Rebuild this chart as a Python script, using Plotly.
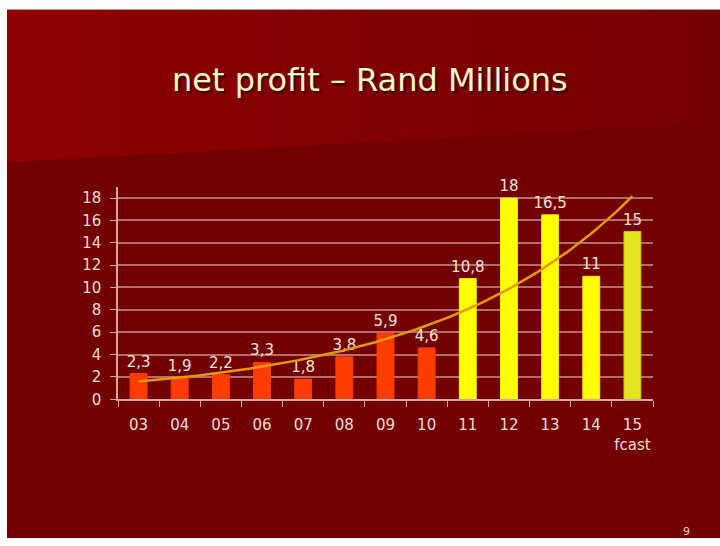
import numpy as np
import plotly.graph_objects as go

# ---- data ----
years = ["03", "04", "05", "06", "07", "08", "09", "10", "11", "12", "13", "14", "15"]
tick_labels = ["03", "04", "05", "06", "07", "08", "09", "10", "11", "12", "13", "14", "15<br>fcast"]
profit = [2.3, 1.9, 2.2, 3.3, 1.8, 3.8, 5.9, 4.6, 10.8, 18, 16.5, 11, 15]
bar_colors = ["#ff3c00"] * 8 + ["#ffff00"] * 4 + ["#e4e41e"]
bar_lines = ["#ff3c00"] * 8 + ["#f0f000"] * 4 + ["#c8c814"]
title_text = "net profit \u2013 Rand Millions"
page_no = "9"

W, H = 720, 546
def px(x):
    return x / W
def py(y):
    return 1 - y / H

xs = list(range(len(years)))

# exponential trendline (least squares on log values, like a spreadsheet trendline)
b, a = np.polyfit(np.arange(1, len(profit) + 1), np.log(profit), 1)
tx = np.linspace(0, len(profit) - 1, 120)
ty = np.exp(a + b * (tx + 1))

fig = go.Figure()
fig.add_trace(go.Bar(
    x=xs, y=profit, width=0.41,
    marker=dict(color=bar_colors, line=dict(color=bar_lines, width=1)),
    texttemplate="%{y}", textposition="outside", cliponaxis=False,
    constraintext="none",
    textfont=dict(family="DejaVu Sans", size=15, color="#f4e4dc"),
    hoverinfo="skip", showlegend=False,
))
fig.add_trace(go.Scatter(
    x=tx, y=ty, mode="lines", line=dict(color="#e39a0a", width=2.5),
    hoverinfo="skip", showlegend=False, cliponaxis=False,
))

# ---- background (slide) ----
shapes = [dict(type="rect", xref="paper", yref="paper", x0=px(7), x1=px(721), y0=py(547), y1=py(10),
               fillcolor="#730000", line=dict(width=0), layer="below")]
n = 40
x_left, x_right = 7, 721
def yb(x):
    return 165 - (x - 7) * (40.0 / 713)
for i in range(n):
    xa = x_left + (x_right - x_left) * i / n
    xb = x_left + (x_right - x_left) * (i + 1) / n + 0.6
    t = (i + 0.5) / n
    r = int(round(142 + (117 - 142) * t))
    path = (f"M {px(xa)} {py(10)} L {px(xb)} {py(10)} L {px(xb)} {py(yb(xb))} "
            f"L {px(xa)} {py(yb(xa))} Z")
    shapes.append(dict(type="path", xref="paper", yref="paper", path=path,
                       fillcolor=f"rgb({r},0,0)", line=dict(width=0), layer="below"))

pink = "#d6a6a6"
grid = "#b46c6c"

fig.update_layout(
    width=W, height=H,
    margin=dict(l=0, r=0, t=0, b=0),
    paper_bgcolor="white",
    plot_bgcolor="rgba(0,0,0,0)",
    separators=", ",
    shapes=shapes,
    xaxis=dict(
        domain=[px(118), px(653)], range=[-0.5, 12.5],
        tickmode="array", tickvals=xs, ticktext=tick_labels,
        ticks="outside", ticklen=11, tickcolor="rgba(0,0,0,0)",
        tickfont=dict(family="DejaVu Sans", size=15, color="#f0dcd4"),
        showline=True, linecolor=pink, linewidth=1.5,
        showgrid=False, zeroline=False,
        minor=dict(tickmode="array", tickvals=[i - 0.5 for i in range(14)],
                   ticks="outside", ticklen=6, tickcolor=pink, tickwidth=1.2, showgrid=False),
        fixedrange=True,
    ),
    yaxis=dict(
        domain=[py(406), py(190)], range=[0, 19],
        tickmode="linear", tick0=0, dtick=2,
        ticks="outside", ticklen=6, tickcolor=pink, tickwidth=1.2,
        ticklabelstandoff=6,
        tickfont=dict(family="DejaVu Sans", size=15, color="#f0dcd4"),
        showline=True, linecolor=pink, linewidth=1.5,
        showgrid=True, gridcolor=grid, gridwidth=1.5,
        zeroline=False, fixedrange=True,
    ),
    annotations=[
        dict(text=title_text, xref="paper", yref="paper", x=px(370), y=py(81),
             xanchor="center", yanchor="middle", showarrow=False,
             font=dict(family="DejaVu Sans", size=32, color="#fff6c4",
                       shadow="2px 2px 2px #2a0000")),
        dict(text=page_no, xref="paper", yref="paper", x=px(686), y=py(540),
             xanchor="center", yanchor="middle", showarrow=False,
             font=dict(family="DejaVu Sans", size=11, color="#ecd6ce")),
    ],
)

fig.write_html("out.html")
